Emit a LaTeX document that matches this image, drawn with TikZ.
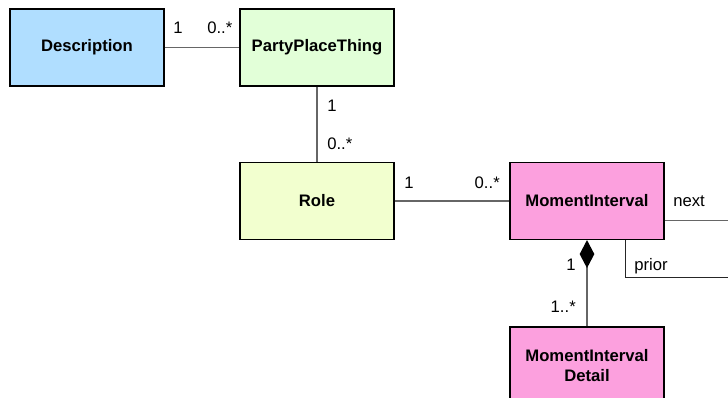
\documentclass[tikz,border=0pt]{standalone}
\usepackage{fontspec}
\setmainfont{Liberation Sans}
\usepackage{tikz}
\usetikzlibrary{arrows.meta}

\definecolor{descblue}{RGB}{176,222,255}
\definecolor{pptgreen}{RGB}{226,255,216}
\definecolor{roleyellow}{RGB}{242,255,207}
\definecolor{mipink}{RGB}{252,160,222}

\begin{document}
\begin{tikzpicture}[x=0.75pt,y=-0.75pt,
    class/.style={draw=black,line width=0.9pt,minimum width=115.5pt,minimum height=57.75pt,
                  inner sep=0pt,align=center,font=\fontsize{12.5}{15}\selectfont\bfseries},
    assoc/.style={draw=black!60,line width=0.9pt},
    mult/.style={inner sep=0pt,font=\fontsize{12.5}{15}\selectfont}]
      \useasboundingbox (0,0) rectangle (728,398);

      % classes
      \node[class,fill=descblue]   (desc) at (87,47.5)   {Description};
      \node[class,fill=pptgreen]   (ppt)  at (317,47.5)  {PartyPlaceThing};
      \node[class,fill=roleyellow] (role) at (317,201)   {Role};
      \node[class,fill=mipink]     (mi)   at (587,201)   {MomentInterval};
      \node[class,fill=mipink]     (mid)  at (587,365.5) {MomentInterval\\Detail};

      % associations
      \draw[assoc] (desc) -- (ppt);
      \draw[assoc] (ppt) -- (role);
      \draw[assoc] (role) -- (mi);
      \draw[assoc,-{Diamond[length=21pt,width=11pt,fill=black,color=black]}] (mid) -- (mi);

      % next / prior link
      \coordinate (nextend) at (728,220.7);
      \coordinate (priorend) at (728,277.7);
      \draw[assoc] (mi.east |- nextend) -- (nextend);
      \draw[assoc,draw=black!85] ([xshift=29pt]mi.south) |- (priorend);

      % multiplicities
      \node[mult,anchor=base west] (m1) at (173,34)  {1};
      \node[mult,anchor=base west] (m2) at (207,34)  {0..*};
      \node[mult,anchor=base west] (m3) at (327,112) {1};
      \node[mult,anchor=base west] (m4) at (327,150) {0..*};
      \node[mult,anchor=base west] (m5) at (404,189) {1};
      \node[mult,anchor=base east] (m6) at (500,189) {0..*};
      \node[mult,anchor=base east] (m7) at (576,271) {1};
      \node[mult,anchor=base east] (m8) at (576,313) {1..*};
      \node[mult,anchor=base west] (nx) at (673,207) {next};
      \node[mult,anchor=base west] (pr) at (634,270.5) {prior};
\end{tikzpicture}
\end{document}
